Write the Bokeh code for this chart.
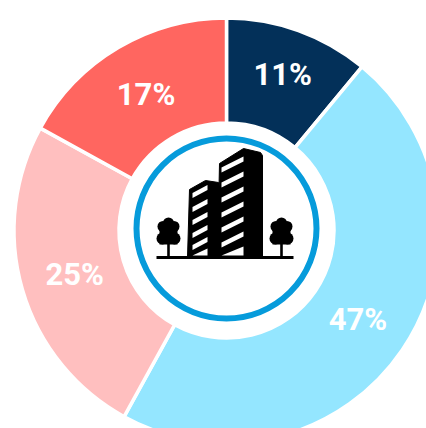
from bokeh.plotting import figure
from bokeh.embed import file_html
from bokeh.resources import INLINE
from bokeh.core.properties import value
from bokeh.models import ColumnDataSource, Range1d
import math

# chart data (clockwise from 12 o'clock)
shares = [11, 47, 25, 17]
labels = ["11%", "47%", "25%", "17%"]
colors = ["#033059", "#94E6FF", "#FFBFBF", "#FF6660"]
label_radius = [166, 159, 158, 158]

# building icon, in page pixels (y from top)
tall_body_x = [217, 219, 243, 260, 262, 262, 217]
tall_body_y = [257, 163, 148, 152, 155, 257, 257]
short_body_x = [187, 189, 205, 218, 218, 187]
short_body_y = [257, 189, 180, 182, 257, 257]
tall_stripes = [164, 179, 194, 209, 224, 239]
short_stripes = [191, 205, 218, 231, 243]
tree_x = [168, 281]

W, H = 426, 428
CX, CY = 226, 230
R_OUT, R_IN = 212.5, 107.5
RING_X, RING_Y, RING_R = 226, 228, 90


def fy(y):
    return H - y


p = figure(width=W, height=H, output_backend="svg", toolbar_location=None,
           x_range=Range1d(0, W), y_range=Range1d(0, H), min_border=0,
           outline_line_color=None, background_fill_color="white", border_fill_color="white")
p.axis.visible = False
p.grid.visible = False

start = 0.0
starts, ends, tx, ty = [], [], [], []
total = sum(shares)
for i, s in enumerate(shares):
    a0 = start / total * 2 * math.pi
    a1 = (start + s) / total * 2 * math.pi
    mid = (a0 + a1) / 2
    starts.append(math.pi / 2 - a0)
    ends.append(math.pi / 2 - a1)
    tx.append(CX + label_radius[i] * math.sin(mid))
    ty.append(fy(CY) + label_radius[i] * math.cos(mid))
    start += s

src = ColumnDataSource(dict(a0=starts, a1=ends, color=colors, tx=tx, ty=ty, label=labels))
p.annular_wedge(x=CX, y=fy(CY), inner_radius=R_IN, outer_radius=R_OUT, start_angle="a0", end_angle="a1",
                direction="clock", fill_color="color", line_color="white", line_width=3.5, source=src)
p.text(x="tx", y="ty", text="label", text_color="white", text_font=value("Roboto"), text_font_style="bold",
       text_font_size="31px", text_align="center", text_baseline="middle", source=src)

# ring
p.circle(x=[RING_X], y=[fy(RING_Y)], radius=RING_R, fill_color="white", line_color="#069BDB", line_width=6)

# buildings
BLACK = "#000000"
p.patch(x=tall_body_x, y=[fy(v) for v in tall_body_y], fill_color=BLACK, line_color=BLACK, line_width=1)
p.patch(x=short_body_x, y=[fy(v) for v in short_body_y], fill_color=BLACK, line_color=BLACK, line_width=1)


def stripe(x0, x1, yc, rise, thick):
    y0 = yc + rise / 2
    y1 = yc - rise / 2
    xs = [x0, x1, x1, x0]
    ys = [y0 - thick / 2, y1 - thick / 2, y1 + thick / 2, y0 + thick / 2]
    return xs, [fy(v) for v in ys]


for yc in tall_stripes:
    xs, ys = stripe(221, 243, yc, 11, 5)
    p.patch(x=xs, y=ys, fill_color="white", line_color=None)
for yc in short_stripes:
    xs, ys = stripe(192, 207, yc, 8, 5)
    p.patch(x=xs, y=ys, fill_color="white", line_color=None)
# bottom clipped windows
p.patch(x=[221, 243, 243, 221], y=[fy(255), fy(255), fy(246), fy(255)], fill_color="white", line_color=None)
p.patch(x=[192, 207, 207, 192], y=[fy(255), fy(255), fy(248), fy(255)], fill_color="white", line_color=None)

# ground
p.quad(left=[156], right=[293], top=[fy(255.5)], bottom=[fy(258.5)], fill_color=BLACK, line_color=None)

# trees
for x in tree_x:
    p.circle(x=[x], y=[fy(222.5)], radius=5.5, fill_color=BLACK, line_color=None)
    p.circle(x=[x - 5.5], y=[fy(226)], radius=5.5, fill_color=BLACK, line_color=None)
    p.circle(x=[x + 5.5], y=[fy(226)], radius=5.5, fill_color=BLACK, line_color=None)
    p.circle(x=[x - 6], y=[fy(238)], radius=6, fill_color=BLACK, line_color=None)
    p.circle(x=[x + 6], y=[fy(238)], radius=6, fill_color=BLACK, line_color=None)
    p.quad(left=[x - 9], right=[x + 9], top=[fy(222)], bottom=[fy(244)], fill_color=BLACK, line_color=None)
    p.quad(left=[x - 1.3], right=[x + 1.3], top=[fy(240)], bottom=[fy(256)], fill_color=BLACK, line_color=None)

file = open("out.html", "w")
file.write(file_html(p, INLINE))
file.close()
